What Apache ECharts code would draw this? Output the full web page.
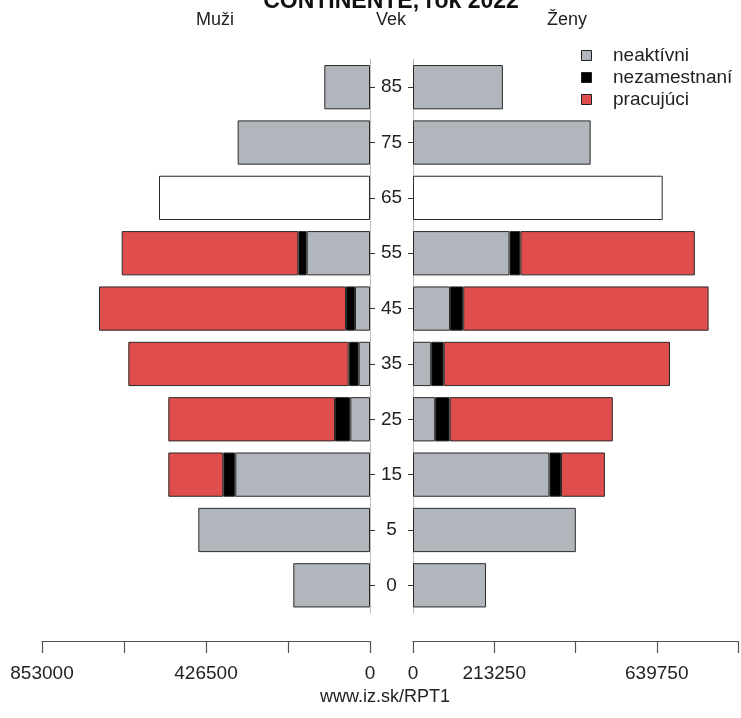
<!DOCTYPE html>
<html>
<head>
<meta charset="utf-8">
<script src="https://cdn.jsdelivr.net/npm/echarts@6/dist/echarts.min.js"></script>
<style>html,body{margin:0;padding:0;background:#fff;overflow:hidden}#c{width:741px;height:718px}</style>
</head>
<body>
<div id="c"></div>
<script>
// Age groups (bottom to top)
var ages = ['0', '5', '15', '25', '35', '45', '55', '65', '75', '85'];
// Men (Muži)
var menInactive   = [199400, 446500, 350300, 51200, 29400, 39000, 164600, null, 344100, 118800];
var menUnemployed = [null, null, 31200, 39800, 26000, 23400, 21800, null, null, null];
var menEmployed   = [null, null, 143000, 433500, 573100, 642300, 459300, null, null, null];
var menTotalOnly  = [null, null, null, null, null, null, null, 548700, null, null];
// Women (Ženy)
var womenInactive   = [191700, 427300, 358100, 58200, 47800, 97200, 253300, null, 466300, 235900];
var womenUnemployed = [null, null, 30400, 38000, 32800, 34600, 28600, null, null, null];
var womenEmployed   = [null, null, 115200, 428200, 593900, 644000, 457700, null, null, null];
var womenTotalOnly  = [null, null, null, null, null, null, null, 655300, null, null];
// Axis
var axisMax = 853000;
var axisStep = 213250;
var leftLabels = [0, 426500, 853000];
var rightLabels = [0, 213250, 639750];
var seriesNames = ['neaktívni', 'nezamestnaní', 'pracujúci'];
var colors = ['#b1b6bd', '#000000', '#df4d4d'];

var FONT = '"Liberation Sans", Arial, sans-serif';
var chart = echarts.init(document.getElementById('c'), null, {renderer: 'canvas', width: 741, height: 718});

function bar(name, data, color, axisIdx, stack) {
  return {
    type: 'bar', name: name, data: data, stack: stack,
    xAxisIndex: axisIdx, yAxisIndex: axisIdx,
    barCategoryGap: '20%',
    itemStyle: {color: color, borderColor: '#2a2a2a', borderWidth: 1},
    emphasis: {disabled: true}, animation: false
  };
}

function xAx(idx, left, labels) {
  return {
    type: 'value', gridIndex: idx, min: 0, max: axisMax, interval: axisStep,
    inverse: left, position: 'bottom', offset: 28,
    axisLine: {show: true, lineStyle: {color: '#555', width: 1.2}},
    axisTick: {show: true, length: 12, lineStyle: {color: '#555', width: 1.2}},
    splitLine: {show: false},
    axisLabel: {
      show: true, margin: 23, fontFamily: FONT, fontSize: 19, color: '#222',
      showMinLabel: true, showMaxLabel: true,
      formatter: function (v) { return labels.indexOf(v) >= 0 ? String(v) : ''; }
    }
  };
}

var legendItems = [];
seriesNames.forEach(function (n, i) {
  var y = 56 + i * 22;
  legendItems.push({type: 'rect', shape: {x: 581.5, y: y - 5.5, width: 10, height: 10},
    style: {fill: colors[i], stroke: '#222', lineWidth: 1}});
  legendItems.push({type: 'text', x: 613, y: y, style: {text: n, font: '19px ' + FONT,
    fill: '#222', textAlign: 'left', textVerticalAlign: 'middle'}});
});

var option = {
  animation: false,
  backgroundColor: '#fff',
  grid: [
    {left: 42, top: 59.5, right: 371, height: 553.5, containLabel: false},
    {left: 413, top: 59.5, right: 0, height: 553.5, containLabel: false}
  ],
  xAxis: [xAx(0, true, leftLabels), xAx(1, false, rightLabels)],
  yAxis: [
    {type: 'category', gridIndex: 0, data: ages, position: 'right',
      axisLine: {show: true, lineStyle: {color: '#bdbdbd'}},
      axisTick: {show: true, length: 5, alignWithLabel: true, lineStyle: {color: '#333'}},
      axisLabel: {show: true, margin: 21.5, align: 'center', fontFamily: FONT, fontSize: 19, color: '#222'}},
    {type: 'category', gridIndex: 1, data: ages, position: 'left',
      axisLine: {show: true, lineStyle: {color: '#bdbdbd'}},
      axisTick: {show: true, length: 5, alignWithLabel: true, lineStyle: {color: '#333'}},
      axisLabel: {show: false}}
  ],
  series: [
    bar(seriesNames[0], menInactive, colors[0], 0, 'm'),
    bar(seriesNames[1], menUnemployed, colors[1], 0, 'm'),
    bar(seriesNames[2], menEmployed, colors[2], 0, 'm'),
    bar('spolu', menTotalOnly, '#ffffff', 0, 'm'),
    bar(seriesNames[0], womenInactive, colors[0], 1, 'w'),
    bar(seriesNames[1], womenUnemployed, colors[1], 1, 'w'),
    bar(seriesNames[2], womenEmployed, colors[2], 1, 'w'),
    bar('spolu', womenTotalOnly, '#ffffff', 1, 'w')
  ],
  graphic: [
    {type: 'text', x: 391, y: 2, style: {text: 'CONTINENTE, rok 2022', font: 'bold 23px ' + FONT,
      fill: '#111', textAlign: 'center', textVerticalAlign: 'middle'}},
    {type: 'text', x: 215, y: 20, style: {text: 'Muži', font: '18px ' + FONT, fill: '#222', textAlign: 'center', textVerticalAlign: 'middle'}},
    {type: 'text', x: 391, y: 20, style: {text: 'Vek', font: '18px ' + FONT, fill: '#222', textAlign: 'center', textVerticalAlign: 'middle'}},
    {type: 'text', x: 567, y: 20, style: {text: 'Ženy', font: '18px ' + FONT, fill: '#222', textAlign: 'center', textVerticalAlign: 'middle'}},
    {type: 'text', x: 385, y: 697, style: {text: 'www.iz.sk/RPT1', font: '18px ' + FONT, fill: '#222', textAlign: 'center', textVerticalAlign: 'middle'}}
  ].concat(legendItems)
};
chart.setOption(option);
</script>
</body>
</html>
